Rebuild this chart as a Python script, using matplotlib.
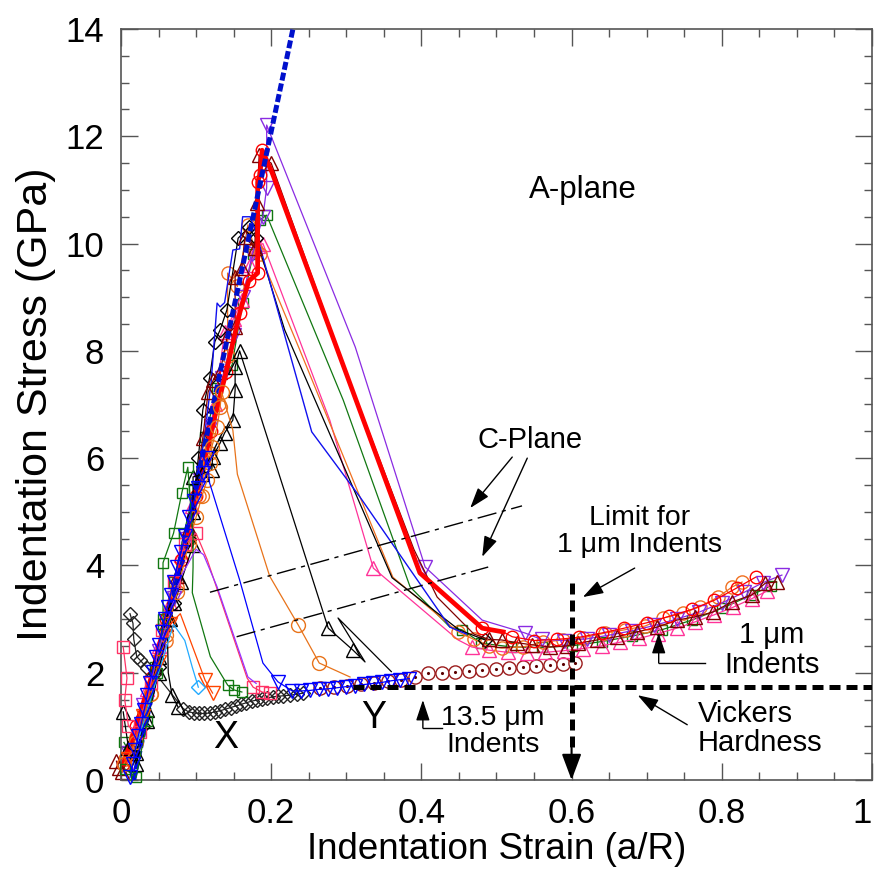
import matplotlib
matplotlib.use("Agg")
import matplotlib.pyplot as plt

plt.rcParams['font.family'] = ['Liberation Sans', 'DejaVu Sans']

# elastic (Hertzian) loading line
hertz_x = [0.017, 0.232]
hertz_y = [0.0, 14.2]

# ---- 1 um indents ----
g1_x = [0.004, 0.012, 0.030, 0.045, 0.056, 0.070, 0.084, 0.097, 0.112, 0.128, 0.148, 0.162, 0.176, 0.185, 0.194,
        0.296, 0.385, 0.438,
        0.454, 0.480, 0.520, 0.560, 0.600, 0.640, 0.680, 0.720, 0.760, 0.800, 0.840, 0.865]
g1_y = [0.70, 0.50, 1.20, 2.10, 3.00, 3.70, 4.60, 5.40, 6.40, 7.30, 7.74, 8.90, 9.80, 10.44, 10.53,
        7.08, 3.60, 2.85,
        2.80, 2.55, 2.48, 2.47, 2.50, 2.58, 2.68, 2.80, 2.98, 3.20, 3.45, 3.62]

p1_x = [0.008, 0.020, 0.035, 0.050, 0.065, 0.080, 0.095, 0.110, 0.125, 0.138, 0.150, 0.161, 0.172, 0.182, 0.189,
        0.278, 0.336, 0.449,
        0.467, 0.490, 0.515, 0.540, 0.565, 0.590, 0.615, 0.640, 0.665, 0.690, 0.715, 0.740, 0.765, 0.790, 0.815, 0.840, 0.860]
p1_y = [0.30, 0.90, 1.70, 2.50, 3.30, 4.20, 5.10, 6.00, 7.00, 8.35, 8.60, 8.95, 9.60, 9.95, 10.00,
        6.71, 3.95, 2.61,
        2.48, 2.42, 2.38, 2.37, 2.38, 2.41, 2.45, 2.50, 2.57, 2.64, 2.73, 2.83, 2.95, 3.08, 3.22, 3.38, 3.52]

o1_x = [0.006, 0.020, 0.040, 0.060, 0.075, 0.090, 0.104, 0.118, 0.130, 0.142, 0.142, 0.155, 0.169, 0.178, 0.185,
        0.238, 0.362, 0.441,
        0.449, 0.470, 0.490, 0.507, 0.535, 0.562, 0.589, 0.615, 0.645, 0.671, 0.698, 0.722, 0.748, 0.771, 0.795, 0.814, 0.827]
o1_y = [0.40, 0.80, 1.60, 2.60, 3.60, 4.50, 5.30, 6.10, 7.00, 7.90, 9.45, 9.20, 10.35, 9.90, 9.80,
        8.02, 3.78, 2.85,
        2.76, 2.62, 2.50, 2.46, 2.48, 2.57, 2.61, 2.65, 2.74, 2.80, 2.87, 3.02, 3.11, 3.23, 3.41, 3.60, 3.69]

kd1_x = [0.030, 0.050, 0.070, 0.090, 0.103, 0.109, 0.118, 0.125, 0.132, 0.141, 0.156, 0.170, 0.180,
         0.218, 0.361, 0.450, 0.485]
kd1_y = [1.00, 2.10, 3.30, 4.50, 6.00, 6.90, 7.50, 8.17, 8.39, 8.76, 10.10, 10.30, 10.10,
         8.39, 3.77, 2.80, 2.61]

bl1_x = [0.020, 0.050, 0.080, 0.100, 0.112, 0.120, 0.128, 0.132, 0.138, 0.149, 0.158, 0.162, 0.172, 0.180, 0.189,
         0.216, 0.254, 0.318, 0.438, 0.460]
bl1_y = [0.40, 2.20, 4.00, 5.40, 6.50, 7.40, 8.89, 8.82, 8.90, 9.88, 9.90, 10.50, 10.50, 10.20, 9.75,
         8.39, 6.49, 5.28, 2.85, 2.72]

v1_x = [0.010, 0.030, 0.050, 0.070, 0.088, 0.105, 0.120, 0.135, 0.150, 0.162, 0.175, 0.189, 0.194, 0.194,
        0.312, 0.405, 0.481,
        0.538, 0.560, 0.590, 0.620, 0.650, 0.680, 0.710, 0.740, 0.770, 0.800, 0.830, 0.855, 0.880]
v1_y = [0.50, 1.40, 2.40, 3.40, 4.50, 5.60, 6.60, 7.50, 8.30, 9.00, 9.80, 10.50, 11.04, 12.21,
        8.07, 3.97, 2.98,
        2.74, 2.62, 2.60, 2.63, 2.70, 2.78, 2.88, 3.00, 3.13, 3.30, 3.50, 3.68, 3.82]

m1_x = [-0.006, -0.003, 0.002, 0.015, 0.030, 0.045, 0.060, 0.075, 0.090, 0.109, 0.116, 0.123, 0.132, 0.142, 0.152,
        0.152, 0.161, 0.165, 0.178, 0.181, 0.184, 0.200,
        0.300, 0.390, 0.421, 0.470,
        0.490, 0.507, 0.527, 0.547, 0.571, 0.594, 0.609, 0.634, 0.660, 0.687, 0.714, 0.740, 0.764, 0.788, 0.814,
        0.840, 0.858, 0.873]
m1_y = [0.35, 0.22, 0.15, 0.60, 1.30, 2.10, 2.90, 3.80, 4.70, 6.38, 7.23, 7.46, 7.60, 8.30, 8.45,
        9.38, 9.54, 10.12, 9.92, 10.76, 11.65, 11.50,
        7.60, 4.30, 3.41, 2.72,
        2.62, 2.61, 2.56, 2.52, 2.48, 2.50, 2.55, 2.61, 2.67, 2.76, 2.85, 2.98, 3.04, 3.13, 3.32,
        3.45, 3.67, 3.69]

r1_x = [0.003, 0.020, 0.040, 0.060, 0.080, 0.100, 0.120, 0.140, 0.158, 0.170, 0.182, 0.182, 0.185, 0.188, 0.201,
        0.398, 0.481, 0.509]
r1_y = [0.30, 1.00, 1.90, 3.00, 4.10, 5.30, 6.50, 7.60, 8.70, 9.30, 9.45, 11.15, 11.28, 11.74, 11.33,
        3.86, 2.83, 2.76]
rt_x = [0.509, 0.521, 0.550, 0.580, 0.610, 0.640, 0.670, 0.700, 0.730, 0.760, 0.790, 0.820, 0.845]
rt_y = [2.76, 2.67, 2.60, 2.62, 2.66, 2.74, 2.83, 2.93, 3.05, 3.18, 3.35, 3.58, 3.78]

# ---- 13.5 um indents ----
br_x = [0.265, 0.283, 0.301, 0.319, 0.337, 0.355, 0.373, 0.391, 0.409, 0.427, 0.445, 0.463, 0.481, 0.499, 0.517,
        0.535, 0.553, 0.571, 0.589, 0.605]
br_y = [1.72, 1.74, 1.76, 1.79, 1.81, 1.84, 1.87, 1.92, 1.99, 2.00, 2.02, 2.03, 2.05, 2.06, 2.08,
        2.10, 2.12, 2.14, 2.16, 2.18]

xd_x = [0.012, 0.016, 0.017, 0.021, 0.025, 0.035, 0.045,
        0.083, 0.090, 0.097, 0.104, 0.111, 0.119, 0.125, 0.132, 0.139, 0.146, 0.153, 0.160, 0.167, 0.174, 0.181,
        0.188, 0.195, 0.202, 0.209, 0.216, 0.225, 0.234, 0.243]
xd_y = [3.10, 2.92, 2.63, 2.30, 2.24, 2.09, 2.00,
        1.33, 1.27, 1.25, 1.24, 1.24, 1.25, 1.27, 1.29, 1.32, 1.35, 1.38, 1.41, 1.44, 1.47, 1.49,
        1.51, 1.53, 1.55, 1.56, 1.57, 1.58, 1.60, 1.62]

k2_x = [0.003, 0.010, 0.020, 0.035, 0.050, 0.062, 0.070, 0.062, 0.063, 0.068, 0.076]
k2_y = [1.27, 0.60, 0.50, 1.30, 2.30, 3.00, 3.30, 2.60, 2.00, 1.58, 1.36]

k1_x = [0.020, 0.035, 0.050, 0.065, 0.080, 0.096, 0.096, 0.096, 0.108, 0.121, 0.122, 0.132, 0.138, 0.149, 0.152,
        0.152, 0.158, 0.276, 0.309, 0.325, 0.289, 0.360]
k1_y = [0.30, 1.10, 2.00, 3.00, 3.70, 4.38, 5.00, 5.65, 5.70, 5.78, 6.02, 6.28, 6.47, 6.71, 7.27,
        7.70, 8.00, 2.83, 2.42, 2.20, 3.02, 2.02]

o13_x = [0.004, 0.020, 0.040, 0.060, 0.075, 0.090, 0.100, 0.108, 0.115, 0.119, 0.121, 0.128, 0.132, 0.134,
         0.149, 0.155, 0.198, 0.236, 0.264, 0.305]
o13_y = [0.30, 0.70, 1.60, 2.70, 3.50, 4.40, 4.90, 5.30, 5.60, 5.91, 6.21, 6.58, 6.95, 7.23,
         6.52, 5.70, 3.80, 2.89, 2.18, 1.92]

c13_x = [0.003, 0.008, 0.005, 0.010, 0.025, 0.040, 0.055, 0.070, 0.085, 0.100, 0.115, 0.168, 0.176, 0.188, 0.198]
c13_y = [2.48, 1.90, 1.50, 1.00, 0.90, 1.80, 2.80, 3.70, 4.40, 4.60, 4.10, 1.90, 1.73, 1.64, 1.62]

g13_x = [0.006, 0.020, 0.035, 0.048, 0.056, 0.056, 0.070, 0.081, 0.089, 0.096, 0.096, 0.095, 0.119, 0.142, 0.150, 0.161]
g13_y = [0.20, 0.05, 1.10, 2.00, 2.90, 4.05, 4.60, 5.35, 5.83, 4.50, 3.97, 3.49, 2.30, 1.77, 1.68, 1.64]

v13_x = [0.020, 0.050, 0.080, 0.100, 0.110, 0.128, 0.169, 0.180]
v13_y = [0.80, 2.40, 3.80, 4.30, 4.20, 3.60, 1.92, 1.80]

r13_x = [0.010, 0.030, 0.050, 0.065, 0.079, 0.112, 0.122]
r13_y = [0.40, 1.20, 2.20, 2.90, 3.10, 1.86, 1.62]

cy_x = [0.020, 0.050, 0.070, 0.085, 0.095, 0.103]
cy_y = [0.60, 2.00, 2.90, 2.60, 2.10, 1.73]

b13_x = [0.012, 0.016, 0.019, 0.023, 0.027, 0.031, 0.035, 0.038, 0.042, 0.046, 0.050, 0.054, 0.058, 0.062, 0.066,
         0.070, 0.075, 0.080, 0.085, 0.091, 0.097, 0.103, 0.109, 0.115,
         0.118, 0.158, 0.189,
         0.209, 0.228, 0.240, 0.252, 0.264, 0.276, 0.288, 0.300, 0.312, 0.324, 0.336, 0.348, 0.360, 0.372, 0.384]
b13_y = [0.05, 0.30, 0.55, 0.82, 1.05, 1.30, 1.58, 1.80, 2.02, 2.30, 2.52, 2.75, 3.00, 3.22, 3.45,
         3.70, 3.97, 4.25, 4.55, 4.90, 5.20, 5.45, 5.72, 6.00,
         5.54, 3.73, 2.18,
         1.83, 1.66, 1.66, 1.67, 1.69, 1.70, 1.72, 1.74, 1.76, 1.78, 1.80, 1.82, 1.85, 1.87, 1.89]

# C-plane reference lines
cp_upper_x = [0.1185, 0.534]
cp_upper_y = [3.50, 5.11]
cp_lower_x = [0.154, 0.489]
cp_lower_y = [2.67, 3.97]

vickers = 1.73
limit_1um = 0.6

fig = plt.figure(figsize=(8.74, 8.71), dpi=100)
ax = fig.add_axes([0.1384, 0.1045, 0.8593, 0.8622])


def trace(x, y, color, marker='o', ms=9, lw=0.9, skip=(), mfc='none', z=2):
    keep = [i for i in range(len(x)) if i not in skip]
    ax.plot(x, y, color=color, lw=lw, marker=marker, ms=ms, mfc=mfc, mec=color,
            mew=1.0, markevery=keep, clip_on=False, zorder=z)


brown = '#9b1c1c'
ax.plot(br_x, br_y, color=brown, lw=0.9, marker='o', ms=9.5, mfc='white', mec=brown, mew=1.0, zorder=2)
ax.plot(br_x, br_y, ls='none', marker='.', ms=2.5, color='#5a0000', zorder=2)

# 1 um curves
trace(g1_x, g1_y, '#117711', 's', ms=7.5, skip=(15, 16, 17))
trace(p1_x, p1_y, '#ff3399', '^', ms=9.5, skip=(15, 17))
trace(o1_x, o1_y, '#f07020', 'o', ms=9.5, skip=(15, 16, 17))
trace(kd1_x, kd1_y, 'black', 'D', ms=6.8, skip=(13, 14, 15))
ax.plot(bl1_x, bl1_y, color='#1010ee', lw=1.0, zorder=2)
trace(v1_x, v1_y, '#8a2be2', 'v', ms=9.5, skip=(14, 16))
trace(m1_x, m1_y, '#800000', '^', ms=9.5, skip=(22, 23, 24, 25))
trace(r1_x, r1_y, '#ff0000', 'o', ms=9, lw=3.4, skip=(14, 15, 17))
trace(rt_x, rt_y, '#ff0000', 'o', ms=9, lw=0.9, skip=(0,))

ax.plot(hertz_x, hertz_y, color='#0010cc', lw=3.6, dashes=(1.6, 0.6), zorder=3)

# 13.5 um curves
trace(xd_x, xd_y, '#222222', 'D', ms=6.8, z=4)
trace(k2_x, k2_y, 'black', '^', ms=10, skip=(7, 8), z=4)
trace(k1_x, k1_y, 'black', '^', ms=10, skip=(19, 20, 21), z=4)
trace(o13_x, o13_y, '#e8731a', 'o', ms=10, skip=(14, 15, 16, 19), z=4)
trace(c13_x, c13_y, '#ff3366', 's', ms=8, skip=(10, 11), z=4)
trace(g13_x, g13_y, '#117711', 's', ms=7.5, skip=(9, 10, 11, 12), z=4)
ax.plot(v13_x, v13_y, color='#9933ff', lw=0.9, zorder=4)
trace(r13_x, r13_y, '#ff4500', 'v', ms=10, skip=(4,), z=4)
trace(cy_x, cy_y, '#22aaff', 'D', ms=7, skip=(0, 1, 2, 3, 4), z=4)
trace(b13_x, b13_y, '#0000ff', 'v', ms=10, skip=(24, 25, 26), z=5)

# C-plane lines
for xs, ys in [(cp_upper_x, cp_upper_y), (cp_lower_x, cp_lower_y)]:
    ax.plot(xs, ys, color='black', lw=1.0, dashes=(14, 4, 3, 4), zorder=6)

# Vickers hardness and 1 um limit
ax.plot([0.309, 1.0], [vickers, vickers], color='black', lw=3.6, dashes=(2.2, 1.2), zorder=6)
ax.plot([limit_1um, limit_1um], [3.67, 0.5], color='black', lw=3.6, dashes=(2.2, 1.2), zorder=6)
ax.annotate('', xy=(limit_1um, 0.0), xytext=(limit_1um, 0.6),
            arrowprops=dict(arrowstyle='-|>,head_length=1.6,head_width=0.6', color='black', lw=1.5,
                            shrinkA=0, shrinkB=0), zorder=6)

thin = dict(arrowstyle='-|>,head_length=0.9,head_width=0.3', color='black', lw=1.0,
            shrinkA=0, shrinkB=0, mutation_scale=14)


def pointer(start, end):
    ax.annotate('', xy=end, xytext=start, arrowprops=thin, zorder=7)


pointer((0.521, 6.02), (0.465, 5.07))
pointer((0.541, 6.00), (0.481, 4.16))
pointer((0.684, 3.95), (0.615, 3.41))
pointer((0.754, 1.03), (0.688, 1.58))

# bracket arrows for the indent labels
ax.plot([0.778, 0.716], [2.18, 2.18], color='black', lw=1.0, zorder=7)
pointer((0.716, 2.18), (0.716, 2.74))
ax.plot([0.427, 0.402], [0.97, 0.97], color='black', lw=1.0, zorder=7)
pointer((0.402, 0.97), (0.402, 1.49))

ax.text(0.615, 11.0, 'A-plane', fontsize=22.5, ha='center', va='center')
ax.text(0.545, 6.34, 'C-Plane', fontsize=21, ha='center', va='center')
ax.text(0.691, 4.64, 'Limit for\n1 μm Indents', fontsize=20.5, ha='center', va='center', linespacing=1.05)
ax.text(0.867, 2.43, '1 μm\nIndents', fontsize=21, ha='center', va='center', linespacing=1.1)
ax.text(0.768, 0.96, 'Vickers\nHardness', fontsize=21, ha='left', va='center', linespacing=1.05)
ax.text(0.495, 0.90, '13.5 μm\nIndents', fontsize=20.5, ha='center', va='center', linespacing=1.05)
ax.text(0.14, 0.78, 'X', fontsize=27, ha='center', va='center')
ax.text(0.337, 1.16, 'Y', fontsize=27, ha='center', va='center')

ax.set_xlim(0, 1)
ax.set_ylim(0, 14)
ax.set_xticks([0, 0.2, 0.4, 0.6, 0.8, 1.0])
ax.set_xticklabels(['0', '0.2', '0.4', '0.6', '0.8', '1'])
ax.get_xticklabels()[-1].set_horizontalalignment('right')  # keep the last label inside the canvas
ax.set_xticks([i * 0.05 for i in range(21)], minor=True)
ax.set_yticks(range(0, 15, 2))
ax.set_yticks([i * 0.5 for i in range(29)], minor=True)
ax.tick_params(which='both', direction='in', top=True, right=True, color='#555555', width=1.0,
               labelsize=25)
ax.tick_params(which='major', length=12, pad=12)
ax.tick_params(which='minor', length=6)
for s in ax.spines.values():
    s.set_color('#555555')
    s.set_linewidth(1.2)

ax.set_xlabel('Indentation Strain (a/R)', fontsize=26.5, labelpad=2)
ax.set_ylabel('Indentation Stress (GPa)', fontsize=31, labelpad=7)

fig.savefig('out.png', dpi=100)
